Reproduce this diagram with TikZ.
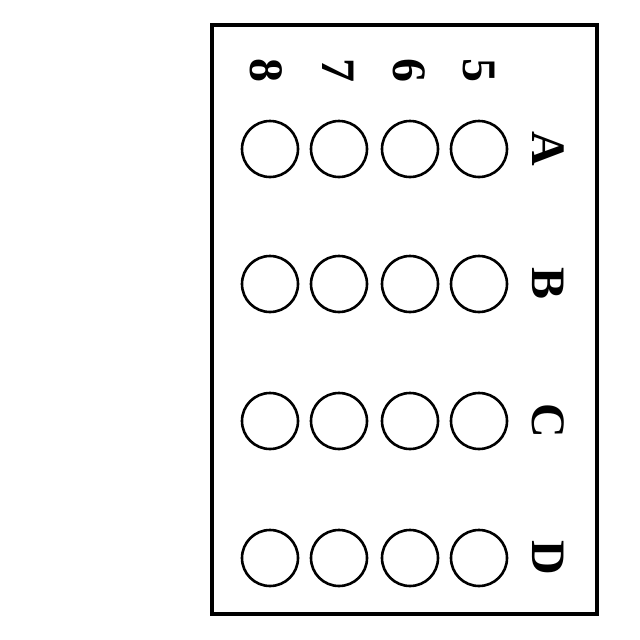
\documentclass[tikz,border=0pt]{standalone}
\usepackage{fontspec}
\setmainfont{Liberation Serif}
\usepackage{tikz}

\begin{document}
\begin{tikzpicture}[x=1pt,y=-1pt,
  hole/.style={circle,draw,line width=2.6pt,minimum size=56pt,inner sep=0pt},
  lbl/.style={rotate=-90,inner sep=0pt,font=\fontsize{48}{48}\selectfont\bfseries}]
\useasboundingbox (0,0) rectangle (640,640);
\draw [line width=3.5pt] (212,25) rectangle (597,614);
% column numbers
\node [lbl] (n8) at (266,70) {8};
\node [lbl] (n7) at (338,70) {7};
\node [lbl] (n6) at (409,70) {6};
\node [lbl] (n5) at (479,70) {5};
% row A
\node [hole] (a8) at (270,149) {};
\node [hole] (a7) at (339,149) {};
\node [hole] (a6) at (410,149) {};
\node [hole] (a5) at (479,149) {};
\node [lbl] (A) at (548,149) {A};
% row B
\node [hole] (b8) at (270,284) {};
\node [hole] (b7) at (339,284) {};
\node [hole] (b6) at (410,284) {};
\node [hole] (b5) at (479,284) {};
\node [lbl] (B) at (548,284) {B};
% row C
\node [hole] (c8) at (270,421) {};
\node [hole] (c7) at (339,421) {};
\node [hole] (c6) at (410,421) {};
\node [hole] (c5) at (479,421) {};
\node [lbl] (C) at (548,421) {C};
% row D
\node [hole] (d8) at (270,558) {};
\node [hole] (d7) at (339,558) {};
\node [hole] (d6) at (410,558) {};
\node [hole] (d5) at (479,558) {};
\node [lbl] (D) at (548,558) {D};
\end{tikzpicture}
\end{document}
